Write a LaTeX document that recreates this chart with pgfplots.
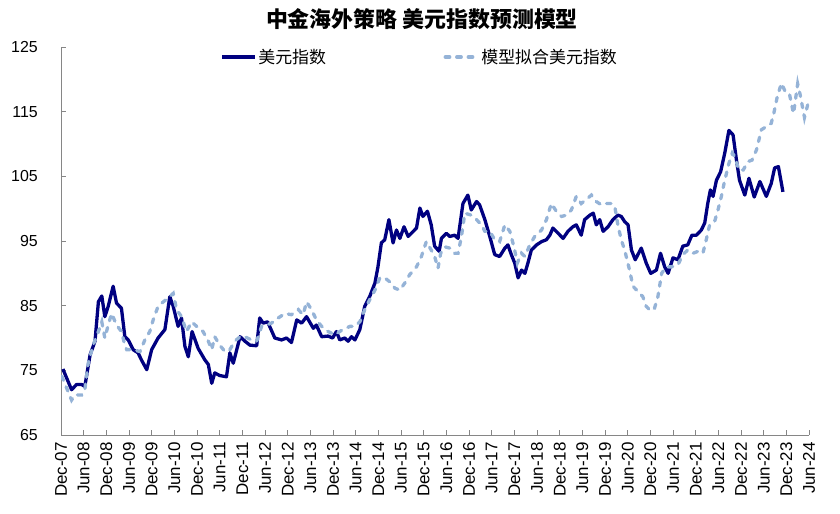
\documentclass[border=0pt]{standalone}
\usepackage{pgfplots}
\pgfplotsset{compat=1.18}
\usepackage{fontspec}
\setmainfont{Liberation Sans}
\newfontfamily\cjk{Noto Sans CJK SC}
\definecolor{navy}{RGB}{0,0,128}
\definecolor{lblue}{RGB}{149,179,215}
\definecolor{axgray}{RGB}{134,134,134}
\begin{document}
\begin{tikzpicture}
\begin{axis}[name=ax, scale only axis, width=748bp, height=388bp,
 xmin=0, xmax=198, ymin=65, ymax=125,
 axis x line*=bottom, axis y line*=left,
 axis line style={axgray, line width=0.8bp, -},
 xtick={0,6,...,198},
 xticklabels={Dec-07,Jun-08,Dec-08,Jun-09,Dec-09,Jun-10,Dec-10,Jun-11,Dec-11,Jun-12,Dec-12,Jun-13,Dec-13,Jun-14,Dec-14,Jun-15,Dec-15,Jun-16,Dec-16,Jun-17,Dec-17,Jun-18,Dec-18,Jun-19,Dec-19,Jun-20,Dec-20,Jun-21,Dec-21,Jun-22,Dec-22,Jun-23,Dec-23,Jun-24},
 ytick={65,75,...,125},
 tick align=inside, major tick length=5bp,
 tick style={axgray, line width=0.8bp},
 /pgf/number format/assume math mode=true,
 yticklabel style={font=\fontsize{16}{18}\selectfont, inner sep=0pt, xshift=-23bp},
 xticklabel style={font=\fontsize{17}{19}\selectfont, yshift=-7bp, rotate=90, anchor=east, inner sep=0pt},
 legend style={at={(0.213,0.974)}, anchor=west, draw=none, fill=none, inner sep=0pt,
   font=\cjk\fontsize{17}{20}\selectfont, nodes={inner sep=1.5bp},
   /tikz/every even column/.append style={column sep=116bp}},
 legend columns=2,
 legend image code/.code={\draw[#1] (0bp,0bp) -- (33bp,0bp);},
]
\addplot[navy, line width=3.3bp, line join=round] coordinates {
(0.5,75.2)(2.8,72.0)(4.1,72.8)(5.5,72.8)(6.3,72.5)(7.7,77.4)(9,79.5)(9.9,85.6)(10.8,86.5)(11.6,83.3)(12.5,84.9)(13.8,88.0)(14.7,85.4)(16,84.6)(16.9,80.2)(17.8,79.7)(19.1,78.2)(20.4,77.7)(21.3,76.6)(22.7,75.1)(24,78.2)(25.7,80.0)(27.5,81.3)(28.8,86.4)(29.7,84.9)(31,81.8)(31.9,83.1)(32.8,78.7)(33.7,77.1)(34.7,81.0)(36.3,78.4)(38.1,76.6)(39,75.9)(39.9,73.0)(40.7,74.6)(42,74.2)(43.8,74.0)(44.7,77.7)(45.6,76.1)(47.4,80.2)(48.7,79.5)(50,78.9)(51.8,78.8)(52.6,83.1)(53.5,82.3)(54.7,82.5)(56.6,80.0)(58.4,79.7)(59.7,80.0)(61,79.3)(62.4,82.8)(63.7,82.3)(65,83.3)(66.8,81.5)(67.6,82.0)(69,80.2)(70.7,80.3)(71.9,80.0)(72.9,81.0)(73.8,79.7)(75.1,80.0)(76,79.5)(76.9,80.2)(77.8,79.7)(79.1,81.3)(80.4,84.9)(81.7,86.4)(83.1,88.5)(83.9,91.0)(84.8,94.7)(85.7,95.2)(86.8,98.3)(87.9,94.7)(88.8,96.7)(89.7,95.4)(90.8,97.2)(91.9,95.7)(94.1,97.0)(95,100.1)(95.8,98.8)(97,99.6)(98,97.5)(98.9,94.2)(100.1,93.4)(100.7,95.4)(102,96.2)(102.9,95.7)(104.2,95.9)(105.1,95.4)(106.4,100.8)(107.7,102.1)(108.6,99.8)(110,101.1)(110.8,100.6)(112.2,98.3)(113.5,95.7)(114.8,92.9)(116.1,92.6)(117.5,93.9)(118.3,94.4)(119.2,92.9)(120.1,91.6)(121,89.3)(121.9,90.5)(122.8,90.0)(123.6,91.6)(124.5,93.6)(125.9,94.4)(127.2,94.9)(128.5,95.2)(129.4,95.9)(130.2,97.0)(131.6,96.2)(132.9,95.4)(134.2,96.5)(135.5,97.2)(136.4,97.5)(137.7,95.9)(138.6,98.3)(140,99.0)(140.9,99.3)(141.7,97.5)(142.6,98.3)(143.5,96.5)(144.8,97.2)(146.1,98.3)(147.4,99.0)(148.3,98.8)(149.2,98.0)(150.1,97.5)(151,93.6)(152,92.1)(153.6,93.9)(154.9,91.6)(156.1,90.0)(157.6,90.5)(158.7,93.1)(159.8,91.0)(160.7,90.0)(162,92.4)(163.3,92.1)(164.6,94.2)(165.9,94.4)(167,95.9)(168.2,95.9)(169.5,96.7)(170.4,97.8)(171.2,100.8)(171.9,102.9)(172.6,101.9)(173.5,104.4)(174.6,105.7)(175.7,108.6)(176.8,112.1)(177.9,111.4)(178.8,107.5)(179.6,104.4)(181,102.1)(182.1,104.7)(183.5,101.8)(185,104.2)(186.7,101.9)(188,103.9)(188.9,106.3)(189.9,106.5)(191.1,102.6)
};
\addlegendentry{美元指数}
\addplot[lblue, line width=3.3bp, line cap=round, dash pattern=on 4.5bp off 7bp] coordinates {
(0.2,74.1)(2.8,70.4)(3.7,71.2)(5.5,71.2)(6.3,72.0)(7.2,76.1)(8.5,78.9)(9.9,81.0)(10.8,82.5)(11.6,80.0)(12.5,82.0)(13.4,83.8)(14.7,82.0)(16,81.0)(16.9,78.9)(17.4,78.2)(19.1,78.2)(20.9,77.9)(22.2,79.7)(23.5,81.0)(24.4,82.8)(25.7,84.9)(27.1,85.6)(28.4,86.2)(29.7,86.9)(30.6,84.4)(31.9,83.3)(33.2,81.0)(34.6,82.5)(35.9,81.8)(37.6,81.0)(39,79.5)(39.9,78.2)(40.7,80.2)(42,78.9)(43.4,77.9)(44.7,78.2)(46,79.5)(47.4,80.2)(48.7,80.2)(50.4,79.7)(51.8,79.5)(53.1,81.8)(54.4,82.0)(55.7,82.3)(57.5,83.1)(59.3,83.8)(61,83.6)(62.8,84.4)(64.1,83.6)(65,85.6)(66.3,84.4)(67.6,82.8)(69,81.8)(70.7,81.0)(72.5,80.5)(74.3,81.2)(76.5,81.8)(77.8,81.8)(79.1,82.5)(80.4,84.4)(81.7,85.9)(83.1,87.4)(84.4,89.3)(85.7,89.3)(87,88.7)(88.4,87.7)(89.7,87.4)(91,88.5)(92.3,89.8)(94.1,91.0)(95.4,92.6)(96.7,94.9)(98,93.6)(98.9,92.6)(99.8,90.8)(100.5,93.1)(101.6,94.1)(102.9,93.9)(104.2,93.1)(105.1,93.1)(106,95.7)(106.9,99.3)(108.6,99.0)(110,98.3)(111.3,97.5)(112.2,96.5)(113.5,96.5)(114.8,95.2)(116.1,94.9)(117.5,97.5)(118.8,96.5)(119.9,94.1)(120.8,91.6)(121.9,93.1)(122.8,92.6)(124.1,94.4)(125.4,95.7)(127.2,96.7)(128.5,98.3)(129.8,100.8)(131.1,99.6)(132.5,98.8)(133.8,99.0)(135.1,99.8)(136.4,101.9)(137.7,100.8)(139,101.4)(140.4,102.1)(141.7,101.1)(143,100.6)(144.3,100.8)(145.7,100.8)(146.6,100.3)(147.4,97.5)(148.3,95.2)(149.2,93.6)(150.5,90.5)(151.4,88.0)(152.7,87.2)(154,86.4)(154.9,84.9)(156.1,84.2)(157.1,84.6)(158,86.4)(159,90.0)(160.2,91.0)(161.6,91.0)(163.3,91.3)(164.6,92.9)(165.9,93.6)(167.3,93.1)(168.6,93.4)(169.9,93.1)(170.8,95.2)(171.7,97.5)(173,98.0)(173.9,99.8)(174.8,101.9)(175.7,104.4)(176.8,107.0)(177.7,108.6)(178.4,108.0)(179.4,106.0)(180.6,106.0)(181.9,107.3)(182.9,107.5)(184.1,109.1)(185.4,112.2)(186.7,112.7)(188,113.2)(188.7,114.8)(189.6,117.3)(190.7,119.4)(191.7,118.1)(192.8,117.8)(193.9,114.7)(195,119.3)(195.7,117.5)(196.8,114.1)(197.8,116.4)
};
\addlegendentry{模型拟合美元指数}
\end{axis}
\node[font=\cjk\bfseries\fontsize{22}{25}\selectfont] at (ax.north) [xshift=-13bp, yshift=28bp] {中金海外策略 美元指数预测模型};
\path (ax.south west) ++(-61bp,-79bp) rectangle ++(840bp,514bp);
\end{tikzpicture}
\end{document}
